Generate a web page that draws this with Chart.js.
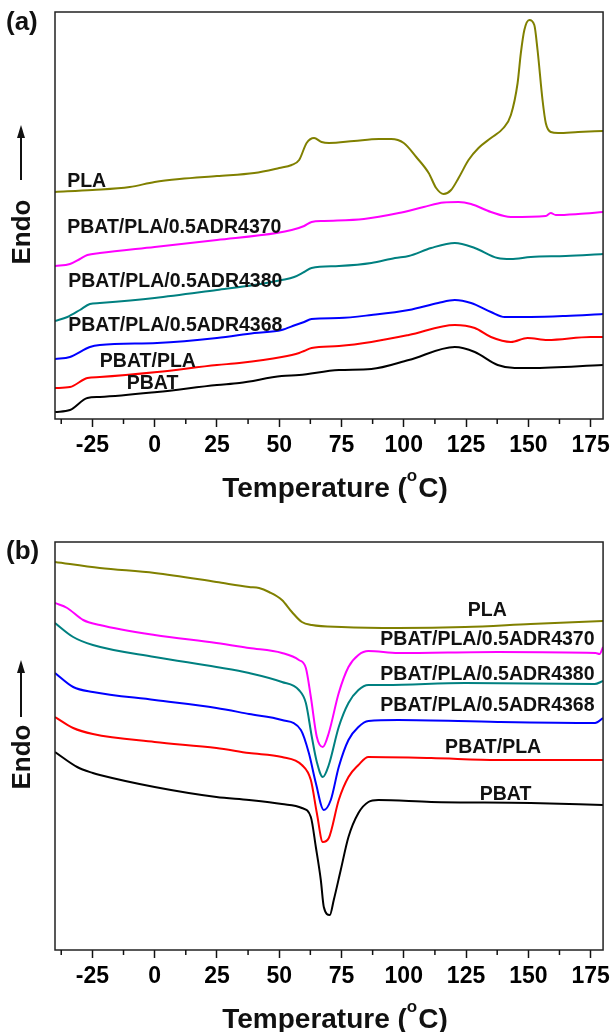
<!DOCTYPE html>
<html>
<head>
<meta charset="utf-8">
<title>DSC curves</title>
<script src="https://cdn.jsdelivr.net/npm/chart.js@4.4.1/dist/chart.umd.min.js"></script>
<style>
  html, body { margin: 0; padding: 0; background: #fff; }
  .panel { position: absolute; left: 0; width: 615px; height: 516px; }
  #panelA { top: 0; }
  #panelB { top: 516px; }
</style>
</head>
<body>
<div class="panel" id="panelA"><canvas id="chartA" width="615" height="516"></canvas></div>
<div class="panel" id="panelB"><canvas id="chartB" width="615" height="516"></canvas></div>
<script>
'use strict';

// series names and colours (same order in both panels)
const names = ['PLA', 'PBAT/PLA/0.5ADR4370', 'PBAT/PLA/0.5ADR4380', 'PBAT/PLA/0.5ADR4368', 'PBAT/PLA', 'PBAT'];
const colors = ['#808000', '#ff00ff', '#008080', '#0000ff', '#ff0000', '#000000'];

// x axis ticks (temperature, °C)
const majorTicks = [-25, 0, 25, 50, 75, 100, 125, 150, 175];
const minorTicks = [-37.5, -12.5, 12.5, 37.5, 62.5, 87.5, 112.5, 137.5, 162.5];

// (a) heat flow, arbitrary units
const tA_PLA = [-40, -25, -10, 0, 10, 25, 40, 50, 55, 58, 61, 64, 67, 70, 80, 90, 95, 100, 105, 110, 113, 116, 119, 122, 126, 130, 135, 140, 143, 145.7, 147, 148.4, 150.4, 152.4, 153.7, 155.7, 157, 159, 162, 170, 180];
const yA_PLA = [227, 229, 232, 237, 240, 243, 246, 251, 254, 259, 276, 281, 277, 276, 278, 280, 280, 276, 262, 246, 231, 225, 229, 241, 259, 271, 281, 291, 304, 336, 366, 389, 399, 394, 369, 319, 296, 287, 286, 287, 288];

const tA_4370 = [-40, -34, -30, -27, -22, 0, 25, 49, 55, 60, 63, 68, 84, 98, 108, 116, 122, 127, 135, 143, 157, 159, 161, 170, 180];
const yA_4370 = [153, 155, 160, 164, 166, 172, 179, 186, 189, 193, 197, 198, 200, 206, 212, 216.5, 217, 215, 207, 202, 203, 206, 204, 205, 207];

const tA_4380 = [-40, -35, -30, -26, -22, 0, 25, 40, 51, 56, 60, 63, 74, 87, 96.5, 102, 111, 120.5, 128.5, 137.7, 143, 151, 165, 180];
const yA_4380 = [98, 102, 109, 115, 116, 121, 129, 134, 139, 142, 147, 151, 153, 156, 161, 163, 171, 176, 171, 161, 160, 162, 163, 165];

const tA_4368 = [-40, -34, -26, -22, 1, 25, 40, 51, 56.5, 60, 63, 74, 87, 102, 113.8, 120.5, 127, 135, 140.5, 151, 165, 180];
const yA_4368 = [60, 62, 72, 74, 76, 81, 86, 89, 94, 97, 100, 101, 104, 109, 116, 119, 116, 107, 102, 102, 103, 105];

const tA_BLEND = [-40, -34, -27, -22, 1, 25, 34, 51, 58, 60, 63, 74, 87, 102, 120.5, 128.5, 135, 143, 149.7, 157.7, 175, 180];
const yA_BLEND = [31, 32, 41, 42, 47, 54, 56, 62, 66, 68, 71, 73, 77, 84, 94, 91, 82, 77, 81, 79, 82, 82];

const tA_PBAT = [-40, -34, -27, -22, 1, 25, 34, 51, 58, 74, 87, 102, 120.5, 128.5, 137.7, 144.5, 151, 180];
const yA_PBAT = [7, 9, 21, 22, 27, 34, 36, 43, 44, 49, 50, 59, 72, 67, 54, 51, 51, 54];

// (b) cooling scans
const tB_PLA = [-40, -22, 0, 24.8, 37.9, 41.9, 45.9, 51.1, 55.1, 59.1, 63.1, 75, 97.8, 124.6, 150.9, 180];
const yB_PLA = [388, 382, 377, 368, 363, 362, 358, 350, 338, 328, 325, 323, 322, 323, 326, 329];

const tB_4370 = [-40, -35.1, -28.7, -22, 0, 24.8, 37.9, 51.1, 57.9, 60.7, 62.7, 65.1, 67.5, 69.9, 73.9, 77.8, 81.8, 85.8, 97.8, 137.7, 177, 178.6, 180];
const yB_4370 = [347, 342, 330, 325, 315, 307, 302, 297, 290, 282, 253, 213, 203, 217, 257, 283, 295, 299, 297, 298, 297, 296, 303];

const tB_4380 = [-40, -32.7, -24.8, 0, 24.8, 37.9, 51.1, 57.9, 60.7, 63.1, 65.1, 67.5, 69.9, 73.9, 77.8, 81.8, 85.8, 92.6, 124.6, 176.6, 180];
const yB_4380 = [327, 313, 305, 293, 283, 277, 268, 260, 247, 213, 188, 173, 185, 223, 247, 260, 265, 265, 267, 266, 269];

const tB_4368 = [-40, -32.7, -24.8, 0, 24.8, 37.9, 51.1, 58.7, 61.9, 64.7, 67.9, 70.7, 73.9, 77.8, 81.8, 85.8, 97.8, 137.7, 176.8, 180];
const yB_4368 = [277, 263, 258, 250, 242, 236, 230, 220, 197, 167, 140, 150, 183, 210, 223, 229, 230, 228, 227, 232];

const tB_BLEND = [-40, -32.7, -24.8, 0, 24.8, 37.9, 51.1, 59.1, 62.7, 65.1, 67.5, 69.9, 73.9, 77.8, 81.8, 85.8, 111, 137.7, 158.9, 180];
const yB_BLEND = [233, 222, 216, 208, 202, 197, 193, 185, 170, 137, 108, 112, 150, 173, 185, 193, 192, 190, 190, 190];

const tB_PBAT = [-40, -31.1, -24.8, -22, 0, 24.8, 37.9, 51.1, 59.1, 62.7, 64.7, 66.7, 67.9, 70.3, 71.9, 74.7, 77.8, 81.8, 85.8, 89.8, 111, 150.9, 180];
const yB_PBAT = [198, 183, 177, 175, 163, 153, 150, 146, 142, 133, 103, 70, 43, 35, 50, 80, 113, 137, 148, 150, 148, 147, 145];

const FONT = "'Liberation Sans', Arial, sans-serif";

document.addEventListener('DOMContentLoaded', function() {
    init();
});

function init() {
    Chart.defaults.font.family = FONT;

    makeChart('chartA', {
        series: [[tA_PLA, yA_PLA], [tA_4370, yA_4370], [tA_4380, yA_4380], [tA_4368, yA_4368], [tA_BLEND, yA_BLEND], [tA_PBAT, yA_PBAT]],
        top: 12, yMax: 407, axisHeight: 97,
        letter: '(a)', letterY: 23,
        arrowTip: 125, arrowEnd: 180, endoY: 232,
        labels: [[-35.1, 237], [-35.1, 191], [-34.7, 137], [-34.7, 93], [-22, 57], [-11.2, 35]]
    });

    makeChart('chartB', {
        series: [[tB_PLA, yB_PLA], [tB_4370, yB_4370], [tB_4380, yB_4380], [tB_4368, yB_4368], [tB_BLEND, yB_BLEND], [tB_PBAT, yB_PBAT]],
        top: 26, yMax: 408, axisHeight: 82,
        letter: '(b)', letterY: 36,
        arrowTip: 144, arrowEnd: 201, endoY: 241,
        labels: [[125.7, 339], [90.6, 310], [90.6, 275], [90.6, 244], [116.6, 202], [130.5, 155]]
    });
}

function toPoints(xs, ys) {
    let pts = [];
    for (let i = 0; i < xs.length; i++) {
        pts.push({x: xs[i], y: ys[i]});
    }
    return pts;
}

function makeChart(id, cfg) {
    let datasets = [];
    for (let i = 0; i < cfg.series.length; i++) {
        datasets.push({
            label: names[i],
            data: toPoints(cfg.series[i][0], cfg.series[i][1]),
            borderColor: colors[i],
            borderWidth: 2,
            pointRadius: 0,
            fill: false,
            cubicInterpolationMode: 'monotone'
        });
    }

    let ctx = document.getElementById(id).getContext('2d');
    return new Chart(ctx, {
        type: 'line',
        data: { datasets: datasets },
        options: {
            responsive: false,
            animation: false,
            layout: { padding: { left: 55, right: 9, top: cfg.top, bottom: 0 } },
            plugins: {
                legend: { display: false },
                tooltip: { enabled: false },
                decor: cfg
            },
            scales: {
                x: {
                    type: 'linear',
                    min: -40,
                    max: 180,
                    afterBuildTicks: function(scale) {
                        scale.ticks = majorTicks.map(v => ({value: v}));
                    },
                    afterFit: function(scale) {
                        scale.height = cfg.axisHeight;
                    },
                    border: { display: false },
                    grid: {
                        drawOnChartArea: false,
                        drawTicks: true,
                        tickLength: 8,
                        tickWidth: 1.5,
                        tickColor: '#111'
                    },
                    ticks: {
                        autoSkip: false,
                        maxRotation: 0,
                        padding: 5,
                        color: '#000',
                        font: { size: 23, weight: 'bold' },
                        callback: v => String(v)
                    }
                },
                y: { display: false, min: 0, max: cfg.yMax }
            }
        },
        plugins: [decorPlugin]
    });
}

const decorPlugin = {
    id: 'decor',
    afterDraw: function(chart, args, opts) {
        let ctx = chart.ctx;
        let area = chart.chartArea;
        let x = chart.scales.x;
        let y = chart.scales.y;
        ctx.save();

        // frame
        ctx.strokeStyle = '#222';
        ctx.lineWidth = 1.5;
        ctx.strokeRect(area.left, area.top, area.right - area.left, area.bottom - area.top);

        // minor ticks
        ctx.strokeStyle = '#111';
        minorTicks.forEach(function(v) {
            let px = x.getPixelForValue(v);
            ctx.beginPath();
            ctx.moveTo(px, area.bottom);
            ctx.lineTo(px, area.bottom + 5);
            ctx.stroke();
        });

        // curve labels
        ctx.fillStyle = '#111';
        ctx.font = 'bold 19.5px ' + FONT;
        ctx.textAlign = 'left';
        ctx.textBaseline = 'middle';
        for (let i = 0; i < names.length; i++) {
            let pos = opts.labels[i];
            ctx.fillText(names[i], x.getPixelForValue(pos[0]), y.getPixelForValue(pos[1]));
        }

        // panel letter
        ctx.font = 'bold 26px ' + FONT;
        ctx.fillText(opts.letter, 6, opts.letterY);

        // Endo arrow
        ctx.strokeStyle = '#111';
        ctx.lineWidth = 2;
        ctx.beginPath();
        ctx.moveTo(21, opts.arrowEnd);
        ctx.lineTo(21, opts.arrowTip + 8);
        ctx.stroke();
        ctx.beginPath();
        ctx.moveTo(21, opts.arrowTip);
        ctx.lineTo(17, opts.arrowTip + 13);
        ctx.lineTo(25, opts.arrowTip + 13);
        ctx.closePath();
        ctx.fill();

        ctx.save();
        ctx.translate(22, opts.endoY);
        ctx.rotate(-Math.PI / 2);
        ctx.font = 'bold 26px ' + FONT;
        ctx.textAlign = 'center';
        ctx.fillText('Endo', 0, 1);
        ctx.restore();

        // axis title with superscript o
        let base = area.bottom + 78;
        let big = 'bold 28px ' + FONT;
        let small = 'bold 17px ' + FONT;
        ctx.textAlign = 'left';
        ctx.textBaseline = 'alphabetic';
        ctx.font = big;
        let w1 = ctx.measureText('Temperature (').width;
        let w3 = ctx.measureText('C)').width;
        ctx.font = small;
        let w2 = ctx.measureText('o').width + 1;
        let start = 335 - (w1 + w2 + w3) / 2;
        ctx.font = big;
        ctx.fillText('Temperature (', start, base);
        ctx.font = small;
        ctx.fillText('o', start + w1, base - 16);
        ctx.font = big;
        ctx.fillText('C)', start + w1 + w2, base);

        ctx.restore();
    }
};
</script>
</body>
</html>
